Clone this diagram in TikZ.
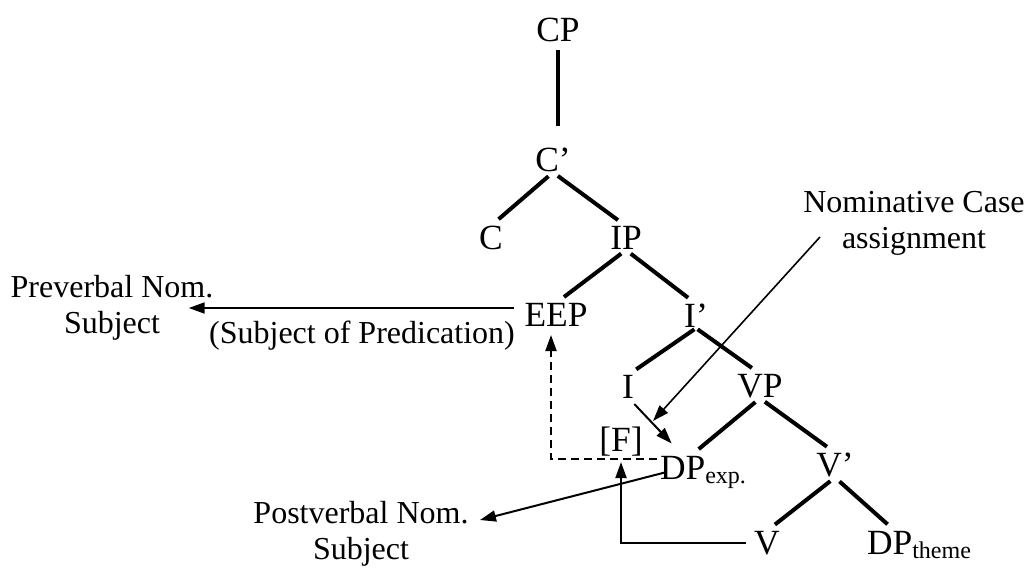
\documentclass[tikz,border=0pt]{standalone}
\usepackage{fontspec}
\setmainfont{Liberation Serif}
\usetikzlibrary{arrows.meta, positioning}
\newcommand{\lowsub}[1]{\raisebox{-2pt}{\fontsize{12}{12}\selectfont #1}}

\begin{document}
\begin{tikzpicture}[x=0.5pt, y=-0.5pt,
		cat/.style={inner sep=0pt, font=\fontsize{17.7}{20}\selectfont},
		note/.style={inner sep=0pt, align=center, font=\fontsize{16}{18}\selectfont},
		branch/.style={line width=2pt, shorten <=3pt, shorten >=5pt},
		arr/.style={line width=1pt, -{Triangle[length=8pt, width=5.5pt]}}]
		\useasboundingbox (0,0) rectangle (1031,569);
		\node (cp) [cat] at (558,30) {CP};
		\node (cbar) [cat] at (553,160) {C’};
		\node (c) [cat] at (491,238) {C};
		\node (ip) [cat] at (626,238) {IP};
		\node (eep) [cat] at (556,315) {EEP};
		\node (ibar) [cat] at (696,316) {I’};
		\node (i) [cat] at (628,387) {I};
		\node (vp) [cat] at (760,386) {VP};
		\node (f) [cat] at (621,442) {[F]};
		\node (dpexp) [cat] at (703,472) {DP\lowsub{exp.}};
		\node (vbar) [cat] at (835,465) {V’};
		\node (v) [cat] at (767,543) {V};
		\node (dptheme) [cat] at (919,545) {DP\lowsub{theme}};
		\node (pre) [note] at (112,308) {Preverbal Nom.\\Subject};
		\node (pred) [note] at (362,336) {(Subject of Predication)};
		\node (nom) [note] at (914,223) {Nominative Case\\assignment};
		\node (post) [note] at (361,534) {Postverbal Nom.\\Subject};
		\draw [branch, shorten <=4pt, shorten >=11pt] (cp) -- (cp |- cbar.north);
		\draw [branch] (cbar.south) -- (c.north);
		\draw [branch] (cbar.south) -- (ip.north);
		\draw [branch] (ip.south) -- (eep.north);
		\draw [branch] (ip.south) -- (ibar.north);
		\draw [branch, shorten <=1pt] (ibar.south) -- (i.north);
		\draw [branch, shorten <=1pt] (ibar.south) -- (vp.north);
		\draw [branch] (vp.south) -- ([xshift=-6pt]dpexp.north);
		\draw [branch] (vp.south) -- (vbar.north);
		\draw [branch] (vbar.south) -- (v.north);
		\draw [branch] (vbar.south) -- ([xshift=-12pt]dptheme.north);
		\draw [arr, shorten <=5pt] ([yshift=3.5pt]eep.west) -- ([xshift=-12.5pt]pre.east);
		\draw [arr, line width=0.8pt] ([xshift=8.5pt, yshift=-7pt]nom.west) -- ([xshift=5pt, yshift=3pt]f.north east);
		\draw [arr] ([yshift=-2.5pt]i.south east) -- ([xshift=6pt, yshift=6pt]dpexp.north west);
		\draw [arr, dashed, dash pattern=on 4pt off 2.5pt, shorten <=1.5pt, shorten >=4pt] ([yshift=-2pt]dpexp.north west) -| ([xshift=-2.5pt]eep.south);
		\draw [arr, shorten <=4pt, shorten >=2.5pt] (v.west) -| (f.south);
		\draw [arr] ([xshift=3.5pt]dpexp.west) -- ([xshift=5.5pt, yshift=7pt]post.east);
	\end{tikzpicture}
\end{document}
